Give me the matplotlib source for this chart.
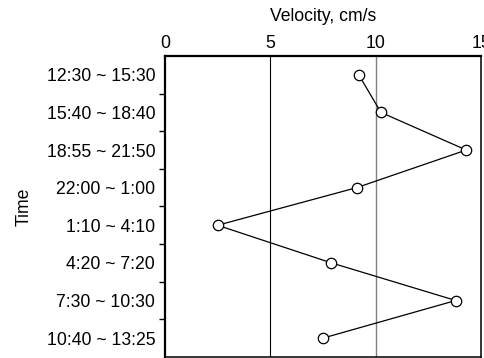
import matplotlib
matplotlib.use("Agg")
import matplotlib.pyplot as plt
import numpy as np

# Sampling periods (top to bottom) and mean velocity in each
periods = ["12:30 ~ 15:30", "15:40 ~ 18:40", "18:55 ~ 21:50", "22:00 ~ 1:00",
           "1:10 ~ 4:10", "4:20 ~ 7:20", "7:30 ~ 10:30", "10:40 ~ 13:25"]
velocity = [9.2, 10.25, 14.3, 9.1, 2.5, 7.9, 13.8, 7.5]
x_ticks = [0, 5, 10, 15]

plt.rcParams["font.family"] = ["Liberation Sans", "DejaVu Sans"]
FS = 12.7

fig = plt.figure(figsize=(4.85, 3.58), dpi=100)
ax = fig.add_axes([0.340, 0.003, 0.6518, 0.8406])

pos = np.arange(len(periods))

# reference lines at 5 and 10 cm/s
ax.axvline(5, color="black", lw=0.8, zorder=1)
ax.axvline(10, color="#808080", lw=1.0, zorder=1)

ax.plot(velocity, pos, color="black", lw=0.9, marker="o", markersize=7.5,
        markerfacecolor="white", markeredgecolor="black", markeredgewidth=0.9,
        zorder=3, clip_on=False)

ax.set_xlim(0, 15)
ax.set_ylim(len(periods) - 0.5, -0.5)

ax.xaxis.tick_top()
ax.xaxis.set_label_position("top")
ax.set_xticks(x_ticks)
ax.set_xticklabels([str(t) for t in x_ticks])
ax.tick_params(axis="x", length=0, pad=3, labelsize=FS)
ax.set_xlabel("Velocity, cm/s", fontsize=FS, labelpad=10)

ax.set_yticks(pos)
ax.set_yticklabels(periods)
ax.tick_params(axis="y", which="major", length=0, pad=7, labelsize=FS)
ax.set_yticks(pos[:-1] + 0.5, minor=True)
ax.tick_params(axis="y", which="minor", length=4, width=1.0, direction="out")
ax.set_ylabel("Time", fontsize=FS, labelpad=10)

ax.spines["left"].set_linewidth(1.6)
ax.spines["top"].set_linewidth(1.6)
ax.spines["right"].set_linewidth(1.1)
ax.spines["bottom"].set_linewidth(1.1)

fig.savefig("out.png", dpi=100)
